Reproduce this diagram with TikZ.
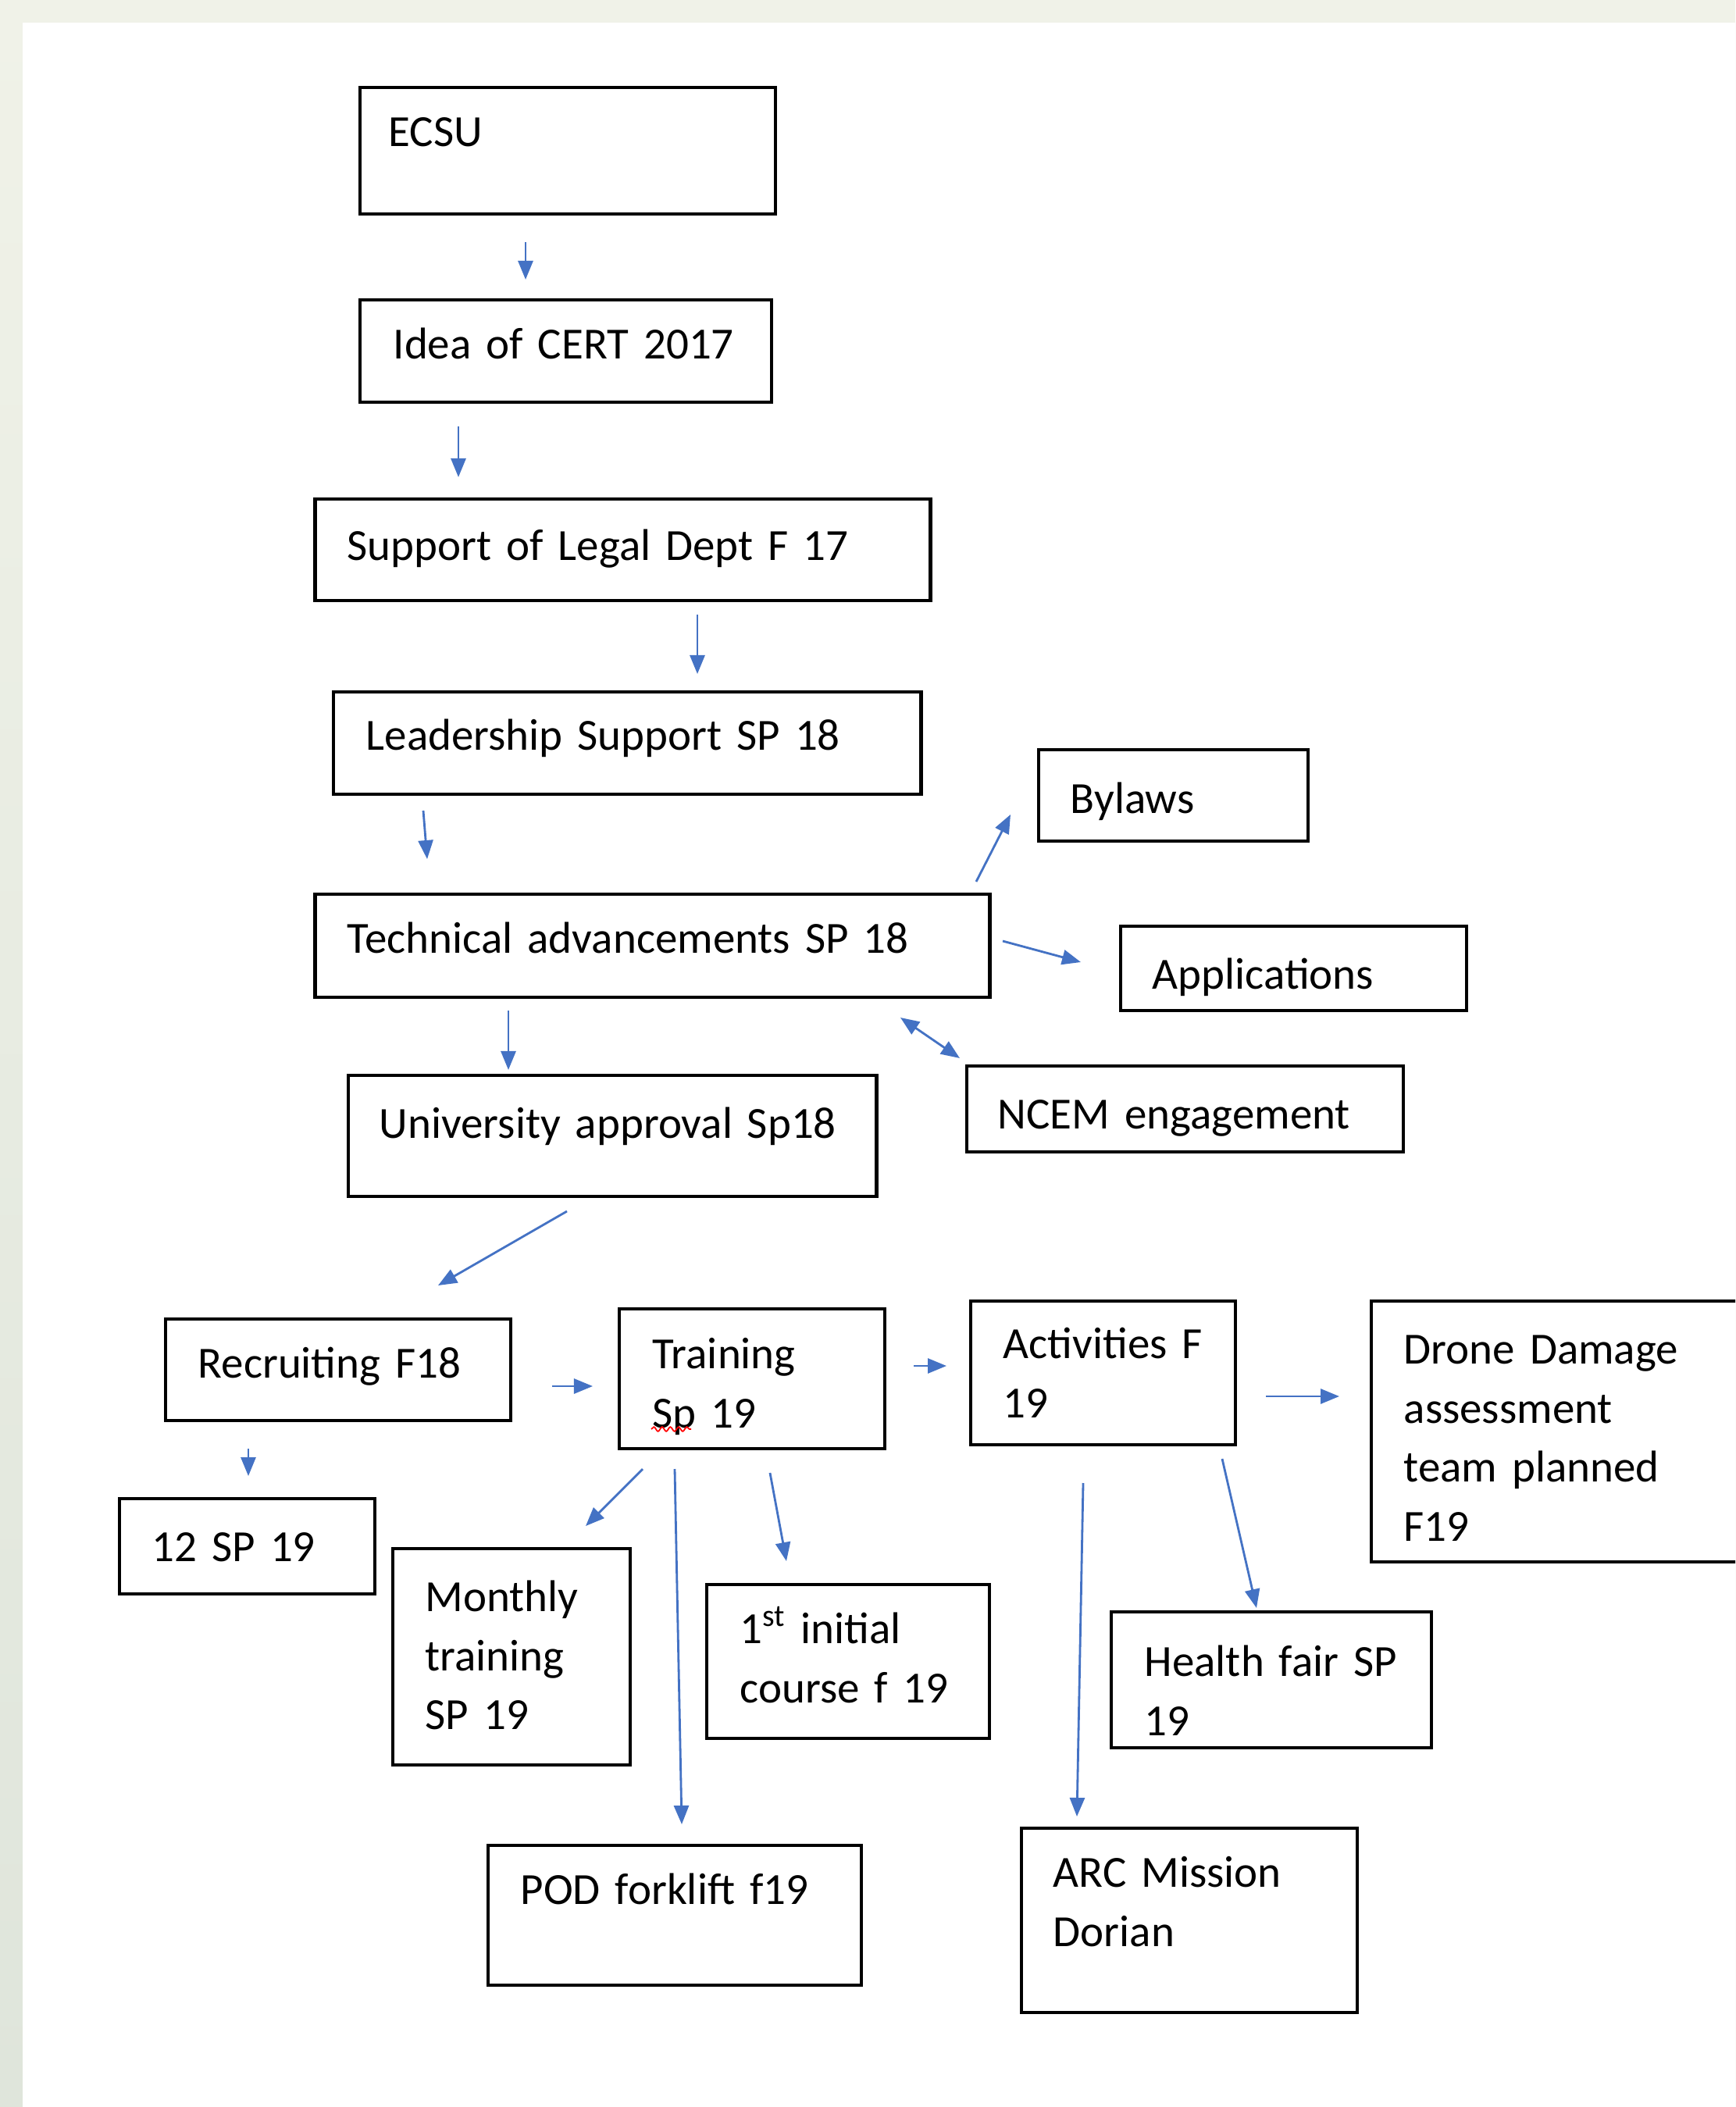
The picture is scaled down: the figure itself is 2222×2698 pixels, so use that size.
\documentclass[tikz,border=0pt]{standalone}
\usepackage{fontspec}
\setmainfont{Carlito}
\usetikzlibrary{arrows.meta,decorations.pathmorphing}

\definecolor{arrowblue}{RGB}{68,114,196}
\definecolor{frametop}{RGB}{240,242,232}
\definecolor{framebot}{RGB}{223,229,219}

\tikzstyle{box}=[rectangle, draw=black, line width=1.3pt, inner sep=0pt]
\tikzstyle{label}=[anchor=north west, inner sep=0pt, text width=8cm, align=left,
                   font=\fontsize{16.2}{21.5}\selectfont]
\tikzstyle{link}=[-{Triangle[length=0.24cm,width=0.19cm]}, draw=arrowblue, line width=0.8pt]

\begin{document}
\begin{tikzpicture}[x=0.01cm, y=-0.01cm]

% page
\clip (0, 0) rectangle (2222, 2698);
\shade[top color=frametop, bottom color=framebot] (0, 0) rectangle (2222, 2698);
\fill[white] (29, 29) rectangle (2222, 2698);

%%%%%%%%%%%%%%%%%%%%%%%%%%%%%%
% boxes

% main line
\node (ecsu) at (727, 193) [box, minimum width=5.32cm, minimum height=1.62cm] {};
\node (ecsu_t) at (497, 134) [label] {\strut ECSU};

\node (idea) at (724.5, 449.5) [box, minimum width=5.27cm, minimum height=1.31cm] {};
\node (idea_t) at (503, 406) [label] {\strut Idea of CERT 2017};

\node (legal) at (797.5, 704) [box, minimum width=7.87cm, minimum height=1.30cm] {};
\node (legal_t) at (444, 664) [label] {\strut Support of Legal Dept F 17};

\node (leader) at (803, 951.5) [box, minimum width=7.52cm, minimum height=1.31cm] {};
\node (leader_t) at (468, 907) [label] {\strut Leadership Support SP 18};

\node (tech) at (835.5, 1211) [box, minimum width=8.63cm, minimum height=1.32cm] {};
\node (tech_t) at (444, 1167) [label] {\strut Technical advancements SP 18};

\node (univ) at (784, 1454.5) [box, minimum width=6.76cm, minimum height=1.55cm] {};
\node (univ_t) at (485, 1404) [label] {\strut University approval Sp18};

% side boxes
\node (bylaws) at (1502.5, 1018.5) [box, minimum width=3.45cm, minimum height=1.17cm] {};
\node (bylaws_t) at (1370, 988) [label] {\strut Bylaws};

\node (apps) at (1656.5, 1240) [box, minimum width=4.43cm, minimum height=1.08cm] {};
\node (apps_t) at (1475, 1213) [label] {\strut Applications};

\node (ncem) at (1517.5, 1420) [box, minimum width=5.59cm, minimum height=1.10cm] {};
\node (ncem_t) at (1277, 1392) [label] {\strut NCEM engagement};

% lower row
\node (recruit) at (433, 1754) [box, minimum width=4.42cm, minimum height=1.30cm] {};
\node (recruit_t) at (253, 1711) [label] {\strut Recruiting F18};

\node (train) at (963, 1765.5) [box, minimum width=3.40cm, minimum height=1.79cm] {};
\node (train_t) at (835, 1699) [label] {\strut Training\\ \strut Sp 19};
\draw[red, line width=0.5pt, decorate, decoration={snake, amplitude=0.8pt, segment length=3pt}]
    (834, 1830) -- (885, 1830);

\node (activ) at (1412.5, 1758) [box, minimum width=3.39cm, minimum height=1.84cm] {};
\node (activ_t) at (1284, 1686) [label] {\strut Activities F\\ \strut 19};

\node (drone) at (2008, 1833) [box, minimum width=5.04cm, minimum height=3.34cm] {};
\node (drone_t) at (1797, 1693) [label] {\strut Drone Damage\\ \strut assessment\\ \strut team planned\\ \strut F19};

\node (sp12) at (316.5, 1980) [box, minimum width=3.27cm, minimum height=1.22cm] {};
\node (sp12_t) at (194, 1946) [label] {\strut 12 SP 19};

\node (monthly) at (655, 2121.5) [box, minimum width=3.04cm, minimum height=2.77cm] {};
\node (monthly_t) at (544, 2010) [label] {\strut Monthly\\ \strut training\\ \strut SP 19};

\node (initial) at (1086, 2127.5) [box, minimum width=3.62cm, minimum height=1.97cm] {};
\node (initial_t) at (947, 2051) [label] {\strut 1\textsuperscript{st} initial\\ \strut course f 19};

\node (health) at (1628, 2151) [box, minimum width=4.10cm, minimum height=1.74cm] {};
\node (health_t) at (1465, 2093) [label] {\strut Health fair SP\\ \strut 19};

\node (pod) at (864, 2452.5) [box, minimum width=4.78cm, minimum height=1.79cm] {};
\node (pod_t) at (666, 2385) [label] {\strut POD forklift f19};

\node (arc) at (1523, 2459) [box, minimum width=4.30cm, minimum height=2.36cm] {};
\node (arc_t) at (1348, 2363) [label] {\strut ARC Mission\\ \strut Dorian};

%%%%%%%%%%%%%%%%%%%%%%%%%%%%%%
% arrow ends

\coordinate (ecsu_out) at (673, 310);
\coordinate (idea_in) at (673, 358);
\coordinate (idea_out) at (587, 546);
\coordinate (legal_in) at (587, 611);
\coordinate (legal_out) at (893, 787);
\coordinate (leader_in) at (893, 863);
\coordinate (leader_out) at (542, 1038);
\coordinate (tech_in) at (547, 1100);

\coordinate (tech_up) at (1250, 1129);
\coordinate (bylaws_in) at (1294, 1043);
\coordinate (tech_right) at (1284, 1205);
\coordinate (apps_in) at (1384, 1232);
\coordinate (tech_low) at (1153, 1303);
\coordinate (ncem_in) at (1229, 1355);
\coordinate (tech_out) at (651, 1294);
\coordinate (univ_in) at (651, 1370);

\coordinate (univ_out) at (726, 1551);
\coordinate (recruit_in) at (561, 1646);
\coordinate (recruit_right) at (707, 1775);
\coordinate (train_in) at (759, 1775);
\coordinate (recruit_out) at (318, 1855);
\coordinate (sp12_in) at (318, 1890);
\coordinate (train_right) at (1170, 1749);
\coordinate (activ_in) at (1212, 1749);
\coordinate (activ_right) at (1621, 1788);
\coordinate (drone_in) at (1715, 1788);

\coordinate (train_a) at (823, 1881);
\coordinate (monthly_in) at (750, 1954);
\coordinate (train_b) at (864, 1881);
\coordinate (pod_in) at (873, 2336);
\coordinate (train_c) at (986, 1886);
\coordinate (initial_in) at (1007, 1999);
\coordinate (activ_a) at (1387, 1899);
\coordinate (arc_in) at (1379, 2326);
\coordinate (activ_b) at (1565, 1868);
\coordinate (health_in) at (1609, 2059);

%%%%%%%%%%%%%%%%%%%%%%%%%%%%%%
% links

\draw [link] (ecsu_out) to (idea_in);
\draw [link] (idea_out) to (legal_in);
\draw [link] (legal_out) to (leader_in);
\draw [link] (leader_out) to (tech_in);

\draw [link] (tech_up) to (bylaws_in);
\draw [link] (tech_right) to (apps_in);
\draw [link, {Triangle[length=0.24cm,width=0.19cm]}-{Triangle[length=0.24cm,width=0.19cm]}] (tech_low) to (ncem_in);
\draw [link] (tech_out) to (univ_in);

\draw [link] (univ_out) to (recruit_in);
\draw [link] (recruit_right) to (train_in);
\draw [link] (recruit_out) to (sp12_in);
\draw [link] (train_right) to (activ_in);
\draw [link] (activ_right) to (drone_in);

\draw [link] (train_a) to (monthly_in);
\draw [link] (train_b) to (pod_in);
\draw [link] (train_c) to (initial_in);
\draw [link] (activ_a) to (arc_in);
\draw [link] (activ_b) to (health_in);

\end{tikzpicture}
\end{document}
